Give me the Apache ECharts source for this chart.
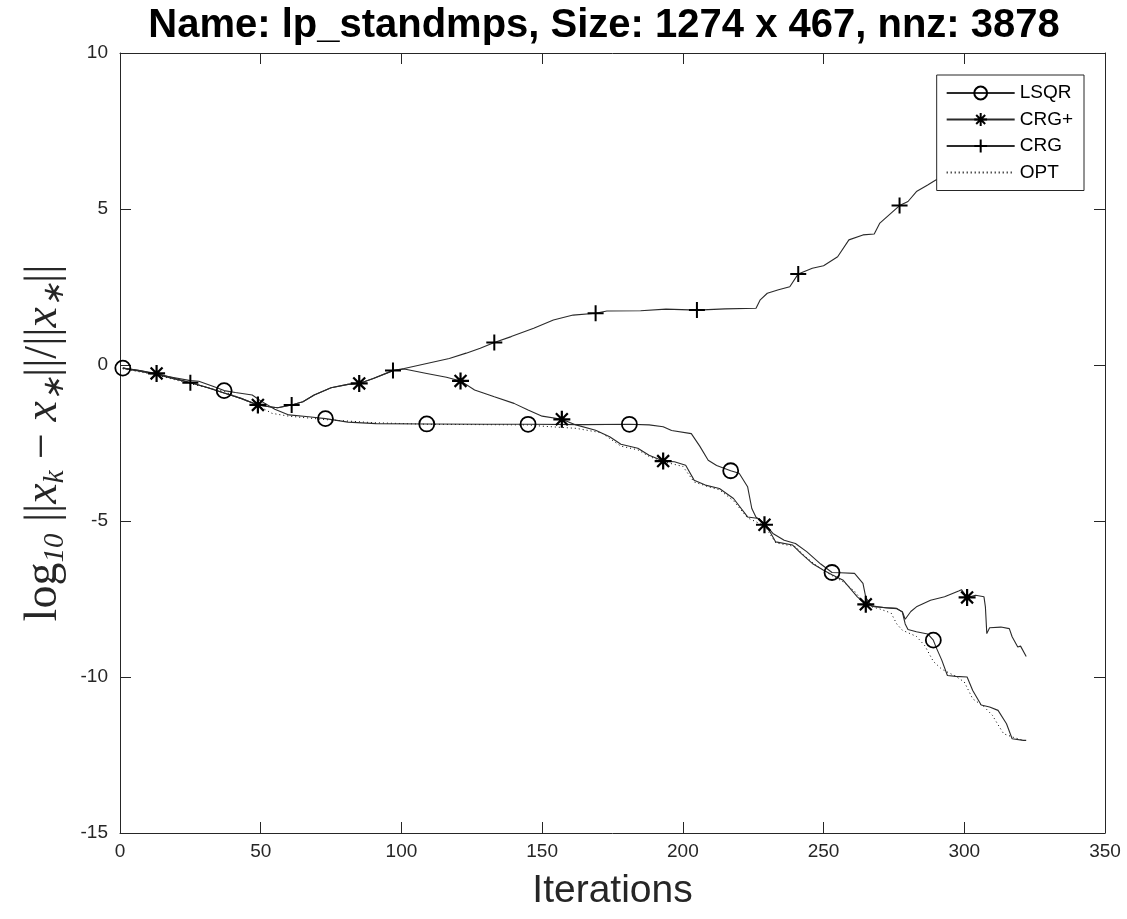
<!DOCTYPE html>
<html lang="en">
<head>
<meta charset="UTF-8">
<title>lp_standmps</title>
<script src="https://cdn.jsdelivr.net/npm/echarts@6/dist/echarts.min.js"></script>
<style>
  html, body { margin: 0; padding: 0; background: #fff; }
  #main { width: 1127px; height: 919px; }
</style>
</head>
<body>
<div id="main"></div>
<script>
// log10 ||x_k - x*|| / ||x*|| per iteration
var lsqrIter = [1, 7, 13, 19, 25, 28, 33, 37, 41, 47, 50, 55, 60, 67, 73, 81, 91, 109, 130, 145, 165, 181, 188, 193, 196, 203, 206, 209, 212, 217, 220, 223, 224.5, 226, 229, 232, 236, 240, 244, 249, 253, 256, 261, 264, 265, 267, 272, 276, 278, 279, 280, 283, 287, 289, 290, 292, 294, 297, 301, 303, 306, 309, 312, 315, 317, 321, 322];
var lsqrVal = [-0.1, -0.2, -0.3, -0.4, -0.5, -0.52, -0.68, -0.82, -0.88, -0.96, -1.15, -1.42, -1.6, -1.66, -1.72, -1.83, -1.88, -1.89, -1.9, -1.9, -1.91, -1.9, -1.92, -1.98, -2.1, -2.2, -2.6, -3.05, -3.22, -3.39, -3.47, -3.9, -4.6, -4.88, -5.08, -5.4, -5.62, -5.72, -5.98, -6.38, -6.65, -6.66, -6.68, -7.0, -7.45, -7.72, -7.78, -7.8, -7.92, -8.3, -8.48, -8.55, -8.62, -8.82, -9.05, -9.46, -9.95, -9.98, -10.0, -10.43, -10.9, -10.96, -11.07, -11.5, -11.98, -12.03, -12.03];

var crgpIter = [1, 7, 13, 19, 25, 31, 37, 43, 49, 53, 56, 61, 65, 69, 75, 81, 85, 90, 97, 101, 109, 116, 121, 126, 133, 140, 145, 150, 157, 162, 169, 174, 178, 184, 188, 193, 197, 201, 204, 208, 213, 218, 223, 227, 229, 231, 233, 239, 242, 246, 250, 253, 257, 262, 265, 268, 276, 278, 279, 281, 283, 288, 293, 298, 299, 301, 304, 307, 307.5, 308, 309, 313, 316, 317, 319, 320, 322];
var crgpVal = [-0.1, -0.18, -0.27, -0.42, -0.56, -0.72, -0.9, -1.07, -1.28, -1.34, -1.37, -1.28, -1.18, -0.96, -0.73, -0.62, -0.59, -0.43, -0.18, -0.13, -0.27, -0.39, -0.51, -0.8, -1.02, -1.23, -1.44, -1.64, -1.74, -1.92, -2.09, -2.3, -2.54, -2.67, -2.89, -3.08, -3.1, -3.21, -3.69, -3.85, -3.96, -4.28, -4.87, -4.92, -5.12, -5.35, -5.67, -5.77, -6.04, -6.36, -6.58, -6.72, -6.9, -7.43, -7.67, -7.75, -7.81, -7.91, -8.15, -7.9, -7.75, -7.54, -7.43, -7.24, -7.2, -7.45, -7.38, -7.43, -7.75, -8.61, -8.42, -8.4, -8.45, -8.71, -9.04, -9.01, -9.34];

var crgIter = [1, 7, 13, 19, 25, 31, 37, 43, 49, 53, 56, 61, 65, 69, 75, 81, 85, 90, 97, 101, 109, 117, 123, 128, 133, 139, 147, 154, 161, 169, 173, 185, 194, 205, 215, 226, 227.5, 230, 234, 238, 241, 246, 250, 255, 259, 264, 268, 270, 274, 277, 280, 283, 287, 289, 295, 301, 307, 313, 318, 322];
var crgVal = [-0.1, -0.18, -0.3, -0.44, -0.57, -0.72, -0.9, -1.07, -1.28, -1.34, -1.37, -1.28, -1.18, -0.96, -0.73, -0.62, -0.59, -0.43, -0.18, -0.11, 0.05, 0.21, 0.38, 0.54, 0.72, 0.91, 1.18, 1.44, 1.6, 1.66, 1.73, 1.74, 1.79, 1.76, 1.8, 1.82, 2.09, 2.3, 2.41, 2.51, 2.92, 3.1, 3.18, 3.47, 4.01, 4.17, 4.2, 4.55, 4.87, 5.11, 5.24, 5.56, 5.77, 5.88, 6.2, 6.6, 6.9, 7.3, 7.6, 7.8];

var optIter = [1, 13, 25, 37, 49, 54, 60, 73, 90, 109, 145, 150, 162, 171, 178, 184, 188, 193, 200, 204, 209, 213, 218, 223, 229, 233, 240, 243, 247, 252, 257, 261, 265, 270, 274, 276, 278, 283, 286, 289, 292, 297, 300, 303, 307, 310, 312, 314, 318, 321];
var optVal = [-0.12, -0.32, -0.6, -0.85, -1.3, -1.55, -1.64, -1.75, -1.85, -1.9, -1.92, -1.96, -2.03, -2.17, -2.6, -2.72, -2.93, -3.1, -3.25, -3.75, -3.9, -4.0, -4.35, -4.9, -5.15, -5.7, -5.82, -6.1, -6.4, -6.7, -6.95, -7.25, -7.7, -7.82, -7.95, -8.3, -8.5, -8.7, -9.0, -9.5, -9.75, -9.98, -10.16, -10.7, -10.95, -11.23, -11.53, -11.82, -11.95, -12.03];

// iterations where MATLAB put a marker
var lsqrMarks = [1, 37, 73, 109, 145, 181, 217, 253, 289];
var crgpMarks = [13, 49, 85, 121, 157, 193, 229, 265, 301];
var crgMarks = [25, 61, 97, 133, 169, 205, 241, 277, 313];

var xMin = 0, xMax = 350, xStep = 50;
var yMin = -15, yMax = 10, yStep = 5;

function pairs(xs, ys) {
    return xs.map(function (x, i) { return [x, ys[i]]; });
}
function markSize(marks, size) {
    return function (v) { return marks.indexOf(v[0]) >= 0 ? size : 0; };
}

var starPath = 'path://M0,-10L0,10M-10,0L10,0M-7,-7L7,7M-7,7L7,-7';
var plusPath = 'path://M0,-10L0,10M-10,0L10,0';
var lineCol = '#2a2a2a';
var font = 'Liberation Sans, Arial, Helvetica, sans-serif';
var serif = 'Liberation Serif, serif';

var myChart = echarts.init(document.getElementById('main'));

// box axes: ticks inside on all four sides
var axisCommon = {
    type: 'value',
    axisLine: { show: true, onZero: false, lineStyle: { color: '#262626', width: 1 } },
    axisTick: { show: true, inside: true, length: 11, lineStyle: { color: '#262626' } },
    splitLine: { show: false }
};

var option = {
    animation: false,
    backgroundColor: '#fff',
    graphic: [{
        type: 'text',
        x: 604,
        y: 6,
        style: {
            text: 'Name: lp_standmps, Size: 1274 x 467, nnz: 3878',
            fontFamily: font,
            fontWeight: 'bold',
            fontSize: 40,
            fill: '#000',
            textAlign: 'center'
        }
    }],
    grid: { left: 120, right: 22, top: 53, bottom: 86 },
    legend: {
        orient: 'vertical',
        right: 43,
        top: 75,
        padding: [8, 11, 8, 9],
        itemWidth: 68,
        itemHeight: 16,
        itemGap: 6.5,
        backgroundColor: '#fff',
        borderColor: '#262626',
        borderWidth: 1,
        textStyle: { fontFamily: font, fontSize: 19, color: '#000', lineHeight: 20 },
        data: ['LSQR', 'CRG+', 'CRG', 'OPT']
    },
    xAxis: [
        Object.assign({}, axisCommon, {
            min: xMin, max: xMax, interval: xStep,
            name: 'Iterations',
            nameLocation: 'middle',
            nameGap: 39,
            nameTextStyle: { fontFamily: font, fontSize: 39, color: '#262626' },
            axisLabel: { fontFamily: font, fontSize: 19, color: '#262626', margin: 9 }
        }),
        Object.assign({}, axisCommon, {
            position: 'top', min: xMin, max: xMax, interval: xStep,
            axisLabel: { show: false }
        })
    ],
    yAxis: [
        Object.assign({}, axisCommon, {
            min: yMin, max: yMax, interval: yStep,
            name: '{n|log}{s|10}{n| ||}{i|x}{s|k}{n| − }{i|x}{s|∗}{n|||/||}{i|x}{s|∗}{n|||}',
            nameLocation: 'middle',
            nameRotate: 90,
            nameGap: 47,
            nameTextStyle: {
                rich: {
                    n: { fontFamily: serif, fontSize: 46, color: '#262626', lineHeight: 52 },
                    i: { fontFamily: serif, fontStyle: 'italic', fontSize: 46, color: '#262626', lineHeight: 52 },
                    s: { fontFamily: serif, fontStyle: 'italic', fontSize: 29, color: '#262626', lineHeight: 24, verticalAlign: 'bottom' }
                }
            },
            axisLabel: { fontFamily: font, fontSize: 19, color: '#262626', margin: 12 }
        }),
        Object.assign({}, axisCommon, {
            position: 'right', min: yMin, max: yMax, interval: yStep,
            axisLabel: { show: false }
        })
    ],
    series: [
        {
            name: 'LSQR', type: 'line',
            data: pairs(lsqrIter, lsqrVal),
            symbol: 'circle',
            symbolSize: markSize(lsqrMarks, 15),
            showSymbol: true, showAllSymbol: true,
            lineStyle: { color: lineCol, width: 1.1 },
            itemStyle: { color: 'transparent', borderColor: '#000', borderWidth: 1.8 },
            silent: true, z: 3
        },
        {
            name: 'CRG+', type: 'line',
            data: pairs(crgpIter, crgpVal),
            symbol: starPath,
            symbolSize: markSize(crgpMarks, 17),
            showSymbol: true, showAllSymbol: true,
            lineStyle: { color: lineCol, width: 1.1 },
            itemStyle: { color: '#000', borderColor: '#000', borderWidth: 2.2 },
            silent: true, z: 3
        },
        {
            name: 'CRG', type: 'line',
            data: pairs(crgIter, crgVal),
            symbol: plusPath,
            symbolSize: markSize(crgMarks, 16),
            showSymbol: true, showAllSymbol: true,
            lineStyle: { color: lineCol, width: 1.1 },
            itemStyle: { color: '#000', borderColor: '#000', borderWidth: 2 },
            silent: true, z: 3
        },
        {
            name: 'OPT', type: 'line',
            data: pairs(optIter, optVal),
            symbol: 'circle',
            symbolSize: 0,
            showSymbol: false,
            lineStyle: { color: '#000', width: 1, type: [1, 3] },
            itemStyle: { color: 'transparent', borderWidth: 0 },
            silent: true, z: 2
        }
    ]
};

myChart.setOption(option);
</script>
</body>
</html>
